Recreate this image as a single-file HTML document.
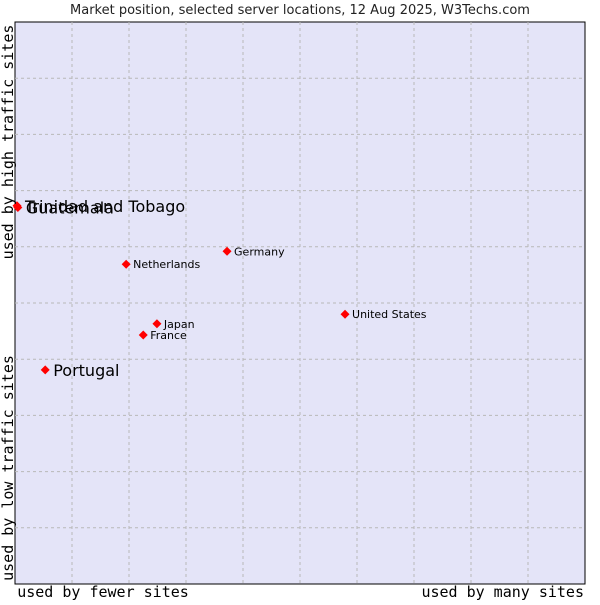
<!DOCTYPE html>
<html><head><meta charset="utf-8"><style>
body{margin:0;background:#fff;}
svg text{font-family:"DejaVu Sans","Liberation Sans",sans-serif;}
</style></head><body>
<svg width="600" height="600" xmlns="http://www.w3.org/2000/svg">
<text x="300" y="14" text-anchor="middle" font-size="13" fill="#222">Market position, selected server locations, 12 Aug 2025, W3Techs.com</text>
<rect x="15" y="22" width="570" height="562" fill="#e4e4f8" stroke="#000" stroke-width="1"/>
<g id="grid"></g>
<g id="pts"></g>
<text x="103" y="597" text-anchor="middle" font-size="15" fill="#000" style="font-family:'DejaVu Sans Mono','Liberation Mono',monospace">used by fewer sites</text>
<text x="584" y="597" text-anchor="end" font-size="15" fill="#000" style="font-family:'DejaVu Sans Mono','Liberation Mono',monospace">used by many sites</text>
<text transform="translate(13,142) rotate(-90)" text-anchor="middle" font-size="15" fill="#000" style="font-family:'DejaVu Sans Mono','Liberation Mono',monospace">used by high traffic sites</text>
<text transform="translate(13,468) rotate(-90)" text-anchor="middle" font-size="15" fill="#000" style="font-family:'DejaVu Sans Mono','Liberation Mono',monospace">used by low traffic sites</text>
</svg>
<script>
const countries=["Trinidad and Tobago","Guatemala","Netherlands","Germany","United States","Japan","France","Portugal"];
const xValues=[0.35,0.5,19.5,37.2,57.9,24.9,22.5,5.3];
const yValues=[67.3,67.0,56.9,59.2,48.0,46.3,44.3,38.1];
const largeLabel=[true,true,false,false,false,false,false,true];
const NS="http://www.w3.org/2000/svg";
const L=15,R=585,T=22,B=584;
const sx=v=>L+v/100*(R-L);
const sy=v=>B-v/100*(B-T);
const grid=document.getElementById('grid');
for(let i=1;i<10;i++){
  const vx=document.createElementNS(NS,'line');
  
  
  const x=sx(i*10);
  vx.setAttribute('x1',x);vx.setAttribute('x2',x);vx.setAttribute('y1',T);vx.setAttribute('y2',B);
  vx.setAttribute('stroke','#b8b8b8');vx.setAttribute('stroke-dasharray','3,3');
  grid.appendChild(vx);
  const hz=document.createElementNS(NS,'line');
  
  
  const y=sy(i*10);
  hz.setAttribute('x1',L);hz.setAttribute('x2',R);hz.setAttribute('y1',y);hz.setAttribute('y2',y);
  hz.setAttribute('stroke','#b8b8b8');hz.setAttribute('stroke-dasharray','3,3');
  grid.appendChild(hz);
}
const pts=document.getElementById('pts');
countries.forEach((c,i)=>{
  const x=sx(xValues[i]),y=sy(yValues[i]);
  const m=document.createElementNS(NS,'polygon');
  
  
  m.setAttribute('points',`${x},${y-4.5} ${x+4.5},${y} ${x},${y+4.5} ${x-4.5},${y}`);
  m.setAttribute('fill','#f00');
  pts.appendChild(m);
  const t=document.createElementNS(NS,'text');
  
  
  t.setAttribute('x',x+(largeLabel[i]?8:7));
  t.setAttribute('y',y+(largeLabel[i]?6:4));
  t.setAttribute('font-size',largeLabel[i]?16:11);
  t.setAttribute('fill','#000');
  t.textContent=c;
  pts.appendChild(t);
});
</script>
</body></html>
